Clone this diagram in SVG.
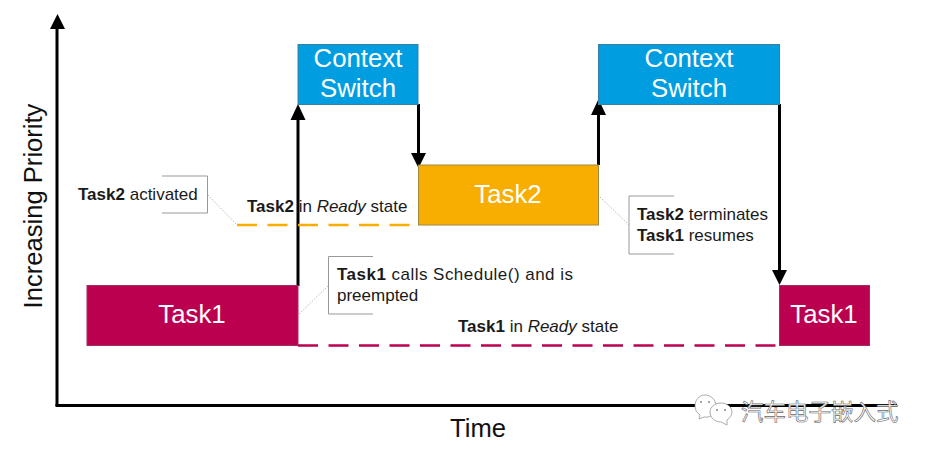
<svg xmlns="http://www.w3.org/2000/svg" width="929" height="452" viewBox="0 0 929 452">
  <style>
    text { font-family: "Liberation Sans", Arial, sans-serif; }
    .box { stroke-width: 1; }
    .red { fill: #bc0050; stroke: #a03060; }
    .blue { fill: #009ee0; stroke: #3a7ea0; }
    .amber { fill: #f8ae00; stroke: #a08840; }
    .in { fill: #fff; font-size: 25.8px; text-anchor: middle; }
    .note { fill: #1a1a1a; font-size: 17px; }
    .b { font-weight: bold; }
    .i { font-style: italic; }
    .cap { fill: #111; font-size: 25.6px; text-anchor: middle; }
    .arrow { fill: none; stroke: #000; stroke-width: 3; }
    .head { fill: #000; }
    .callout { fill: none; stroke: #999; stroke-width: 1; }
    .leader { fill: none; stroke: #bbb; stroke-width: 1; stroke-dasharray: 1.5 1.5; }
    .dash { fill: none; stroke-width: 2.5; stroke-dasharray: 20 10.5; }
    .mark { fill: #fff; stroke: #888; stroke-width: 0.7; }
    .eye { fill: #888; }
  </style>

  <g id="connectors">
    <path class="arrow" d="M57 406V24"/>
    <polygon class="head" points="57.500,14 50,29 65,29"/>
    <path class="arrow" d="M55.500 405.500H897"/>
    <path class="arrow" d="M298 286V118"/>
    <polygon class="head" points="298,104 290.500,120 305.500,120"/>
    <path class="arrow" d="M418.500 104V156"/>
    <polygon class="head" points="418.500,168 411,153 426,153"/>
    <path class="arrow" d="M598.500 165V114"/>
    <polygon class="head" points="598.500,99 591,115 606,115"/>
    <path class="arrow" d="M779.500 104V272"/>
    <polygon class="head" points="779.500,285 772,270 787,270"/>
    <path class="dash" stroke="#f8ae00" d="M237 225H412"/>
    <path class="dash" stroke="#bc0050" d="M298 345.500H776"/>
    <path class="leader" d="M208 195L237 225"/>
    <path class="leader" d="M299 314L328 286"/>
    <path class="leader" d="M600 197L629 225"/>
  </g>

  <g id="task1-first">
    <rect class="box red" x="87" y="285.500" width="211" height="60"/>
    <text class="in" x="192" y="323">Task1</text>
  </g>
  <g id="switch-first">
    <rect class="box blue" x="298" y="44.500" width="120" height="60"/>
    <text class="in" x="358" y="67">Context</text>
    <text class="in" x="358" y="97">Switch</text>
  </g>
  <g id="task2">
    <rect class="box amber" x="418.500" y="165" width="180" height="60"/>
    <text class="in" x="508" y="203">Task2</text>
  </g>
  <g id="switch-second">
    <rect class="box blue" x="598.500" y="44.500" width="181" height="60"/>
    <text class="in" x="689" y="67">Context</text>
    <text class="in" x="689" y="97">Switch</text>
  </g>
  <g id="task1-second">
    <rect class="box red" x="779.500" y="285.500" width="90" height="60"/>
    <text class="in" x="824" y="323">Task1</text>
  </g>

  <g id="note-task2-activated">
    <path class="callout" d="M162 176H207.500V213H162"/>
    <text class="note" x="78" y="200"><tspan class="b">Task2</tspan> activated</text>
  </g>
  <g id="note-task2-ready">
    <text class="note" x="247" y="212"><tspan class="b">Task2</tspan> in <tspan class="i">Ready</tspan> state</text>
  </g>
  <g id="note-task1-preempted">
    <path class="callout" d="M373 256.500H328.500V314H373"/>
    <text class="note" x="337" y="280" textLength="236"><tspan class="b">Task1</tspan> calls Schedule() and is</text>
    <text class="note" x="337" y="301">preempted</text>
  </g>
  <g id="note-task1-ready">
    <text class="note" x="458" y="332"><tspan class="b">Task1</tspan> in <tspan class="i">Ready</tspan> state</text>
  </g>
  <g id="note-task2-terminates">
    <path class="callout" d="M674 196H629V254H674"/>
    <text class="note" x="637" y="220"><tspan class="b">Task2</tspan> terminates</text>
    <text class="note" x="637" y="241"><tspan class="b">Task1</tspan> resumes</text>
  </g>

  <g id="axis-labels">
    <text class="cap" transform="translate(42 206) rotate(-90)">Increasing Priority</text>
    <text class="cap" x="478" y="437">Time</text>
  </g>

  <g id="brand">
    <path class="mark" d="M705 395C699 395 695 400 695 406C695 410 697 413 700 415L699 419L704 417C710 418 716 414 716 406C716 400 711 395 705 395Z"/>
    <circle class="eye" cx="701" cy="402" r="1"/>
    <circle class="eye" cx="709" cy="402" r="1"/>
    <path class="mark" d="M721 403C715 403 710 407 710 412C710 418 715 422 721 422L727 425L727 420C730 418 732 415 732 412C732 407 727 403 721 403Z"/>
    <circle class="eye" cx="717" cy="410" r="1"/>
    <circle class="eye" cx="725" cy="410" r="1"/>
    <text x="741" y="420" style="font-family:'Noto Sans CJK SC',sans-serif;font-size:22.500px;fill:#fff;stroke:#666;stroke-width:.6">汽车电子嵌入式</text>
  </g>
</svg>
